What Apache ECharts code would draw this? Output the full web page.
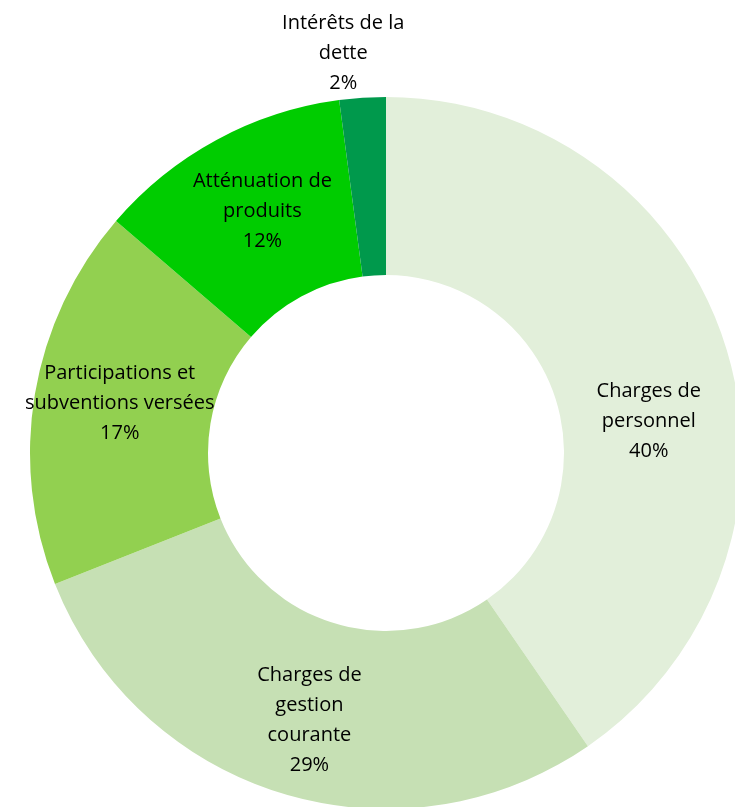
<!DOCTYPE html>
<html>

<head>
    <meta charset="UTF-8" />
    <title>Dépenses de fonctionnement</title>
    <script src="https://cdn.jsdelivr.net/npm/echarts@6/dist/echarts.min.js"></script>
    <style>
        html, body { margin: 0; padding: 0; background: #fff; }
        #chart { width: 735px; height: 807px; }
    </style>
</head>

<body>
    <div id="chart"></div>

    <script type="text/javascript">
        // données (ordre horaire depuis le haut)
        const labels = [
            'Charges de\npersonnel',
            'Charges de\ngestion\ncourante',
            'Participations et\nsubventions versées',
            'Atténuation de\nproduits',
            'Intérêts de la\ndette'
        ];
        const values = [40.4, 28.6, 17.3, 11.6, 2.1];
        const colors = ['#E2EFDA', '#C6E0B4', '#92D050', '#00CC00', '#00994C'];

        // décalage des étiquettes par rapport à la position "inside"
        const labelShift = [[5, 48], [2, 9], [0, -5], [5, -4], [-25, -130]];

        let chart = echarts.init(document.getElementById('chart'), null, { renderer: 'canvas' });

        let pieData = values.map((v, i) => ({
            name: labels[i],
            value: v,
            itemStyle: { color: colors[i] }
        }));

        let option = {
            animation: false,
            series: [
                {
                    type: 'pie',
                    center: [386, 453],
                    radius: [178, 356],
                    startAngle: 90,
                    clockwise: true,
                    avoidLabelOverlap: false,
                    itemStyle: { borderWidth: 0 },
                    label: {
                        show: true,
                        position: 'inside',
                        color: '#000',
                        fontFamily: 'Open Sans',
                        fontSize: 20,
                        lineHeight: 30,
                        align: 'center',
                        formatter: p => p.name + '\n' + Math.round(p.percent) + '%'
                    },
                    labelLine: { show: false },
                    labelLayout: p => ({ dx: labelShift[p.dataIndex][0], dy: labelShift[p.dataIndex][1] }),
                    emphasis: { disabled: true },
                    data: pieData
                }
            ]
        };
        chart.setOption(option);
    </script>
</body>

</html>
